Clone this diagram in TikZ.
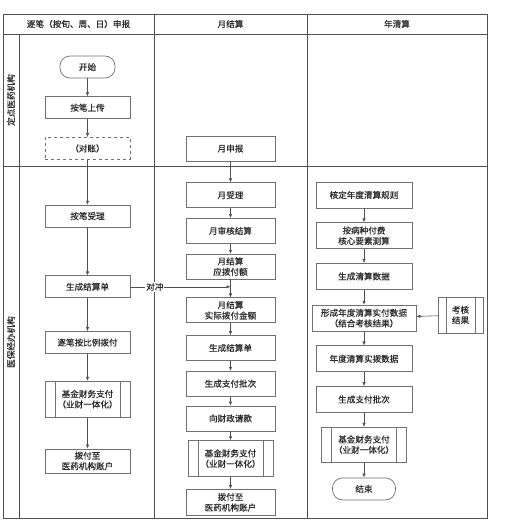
\documentclass[tikz,border=0pt]{standalone}
\usepackage{fontspec}
\newfontfamily\cjk[FakeBold=0.5]{Noto Sans CJK SC}
\usetikzlibrary{arrows.meta,positioning}
\definecolor{boxgray}{HTML}{707070}
\definecolor{framegray}{HTML}{505050}
\definecolor{txtgray}{HTML}{2A2A2A}

\tikzset{
  proc/.style={draw=boxgray, line width=0.7pt, align=center, text=txtgray, inner sep=1pt,
    minimum width=85pt, minimum height=22pt, font=\cjk\fontsize{8.6}{10.5}\selectfont},
  term/.style={proc, rounded corners=10pt},
  subproc/.style={proc, path picture={\draw[boxgray, line width=0.7pt]
    ([xshift=#1]path picture bounding box.north west) -- ([xshift=#1]path picture bounding box.south west)
    ([xshift=-#1]path picture bounding box.north east) -- ([xshift=-#1]path picture bounding box.south east);}},
  subproc/.default=10pt,
  frame/.style={draw=framegray, line width=0.8pt},
  head/.style={text=txtgray, font=\cjk\fontsize{8.6}{10.5}\selectfont},
  flow/.style={->, draw=framegray, line width=0.6pt}
}

\begin{document}
\begin{tikzpicture}[x=1pt, y=-1pt, >={Latex[length=4pt,width=3.5pt]}]
\useasboundingbox (0,0) rectangle (506,531);

% swimlane frame
\draw[frame] (3,14) rectangle (487,518);
\draw[frame] (3,34) -- (487,34);
\draw[frame] (3,166) -- (487,166);
\draw[frame] (19,34) -- (19,518);
\draw[frame] (154,14) -- (154,518);
\draw[frame] (307,14) -- (307,518);

\node[head] (hdone) at (78.5,24) {逐笔（按旬、周、日）申报};
\node[head] (hdmonth) at (230.5,24) {月结算};
\node[head] (hdyear) at (397,24) {年清算};
\node[head, rotate=90] (lnorg) at (11,100) {定点医药机构};
\node[head, rotate=90] (lnins) at (11,342) {医保经办机构};

% per-item column
\node[term, minimum width=55pt] (start) at (87.5,67) {开始};
\node[proc, below=18pt of start] (upload) {按笔上传};
\node[proc, dashed, below=18pt of upload] (check) {（对账）};
\node[proc, below=45pt of check] (accept) {按笔受理};
\node[proc, below=48pt of accept] (bill) {生成结算单};
\node[proc, below=33pt of bill] (ratio) {逐笔按比例拨付};
\node[subproc, minimum height=36pt, below=27pt of ratio] (fund) {基金财务支付\\（业财一体化）};
\node[proc, minimum height=24pt, below=31pt of fund] (pay) {拨付至\\医药机构账户};

% monthly column
\node[proc, minimum width=89pt, minimum height=25pt] (mreport) at (230.5,148.5) {月申报};
\node[proc, minimum width=89pt, minimum height=25pt, below=21pt of mreport] (maccept) {月受理};
\node[proc, minimum width=89pt, minimum height=25pt, below=10pt of maccept] (maudit) {月审核结算};
\node[proc, minimum width=89pt, minimum height=25pt, below=10pt of maudit] (mdue) {月结算\\应拨付额};
\node[proc, minimum width=89pt, minimum height=25pt, below=18pt of mdue] (mactual) {月结算\\实际拨付金额};
\node[proc, minimum width=89pt, minimum height=25pt, below=12pt of mactual] (mbill) {生成结算单};
\node[proc, minimum width=89pt, minimum height=25pt, below=10pt of mbill] (mbatch) {生成支付批次};
\node[proc, minimum width=89pt, minimum height=25pt, below=9pt of mbatch] (mreq) {向财政请款};
\node[subproc, minimum height=36pt, below=9pt of mreq] (mfund) {基金财务支付\\（业财一体化）};
\node[proc, minimum width=89pt, minimum height=26pt, below=12pt of mfund] (mpay) {拨付至\\医药机构账户};

% yearly column
\node[proc, minimum width=96pt, minimum height=26pt] (rule) at (364,195) {核定年度清算规则};
\node[proc, minimum width=96pt, minimum height=26pt, below=14pt of rule] (calc) {按病种付费\\核心要素测算};
\node[proc, minimum width=96pt, minimum height=26pt, below=14pt of calc] (ydata) {生成清算数据};
\node[proc, minimum width=104pt, minimum height=26pt, below=15pt of ydata] (yreal) {形成年度清算实付数据\\（结合考核结果）};
\node[proc, minimum width=96pt, minimum height=26pt, below=14pt of yreal] (yannual) {年度清算实拨数据};
\node[proc, minimum width=96pt, minimum height=26pt, below=14pt of yannual] (ybatch) {生成支付批次};
\node[subproc, minimum height=35pt, below=14pt of ybatch] (yfund) {基金财务支付\\（业财一体化）};
\node[term, minimum width=63pt, below=15pt of yfund] (finish) {结束};
\node[subproc=8pt, minimum width=45pt, minimum height=36pt] (assess) at (460.5,315) {考核\\结果};

% connectors
\draw[flow] (start) -- (upload);
\draw[flow] (upload) -- (check);
\draw[flow] (check) -- (accept);
\draw[flow] (accept) -- (bill);
\draw[flow] (bill) -- (ratio);
\draw[flow] (ratio) -- (fund);
\draw[flow] (fund) -- (pay);

\draw[flow] (mreport) -- (maccept);
\draw[flow] (maccept) -- (maudit);
\draw[flow] (maudit) -- (mdue);
\draw[flow] (mdue) -- (mactual);
\draw[flow] (mactual) -- (mbill);
\draw[flow] (mbill) -- (mbatch);
\draw[flow] (mbatch) -- (mreq);
\draw[flow] (mreq) -- (mfund);
\draw[flow] (mfund) -- (mpay);

\coordinate (offset) at (mdue |- bill);
\draw[flow] (bill) -- node[head, fill=white, inner sep=1pt, pos=0.245] (offlbl) {对冲} (offset);

\draw[flow] (rule) -- (calc);
\draw[flow] (calc) -- (ydata);
\draw[flow] (ydata) -- (yreal);
\draw[flow] (yreal) -- (yannual);
\draw[flow] (yannual) -- (ybatch);
\draw[flow] (ybatch) -- (yfund);
\draw[flow] (yfund) -- (finish);
\draw[flow] (assess) -- (yreal);
\end{tikzpicture}
\end{document}
